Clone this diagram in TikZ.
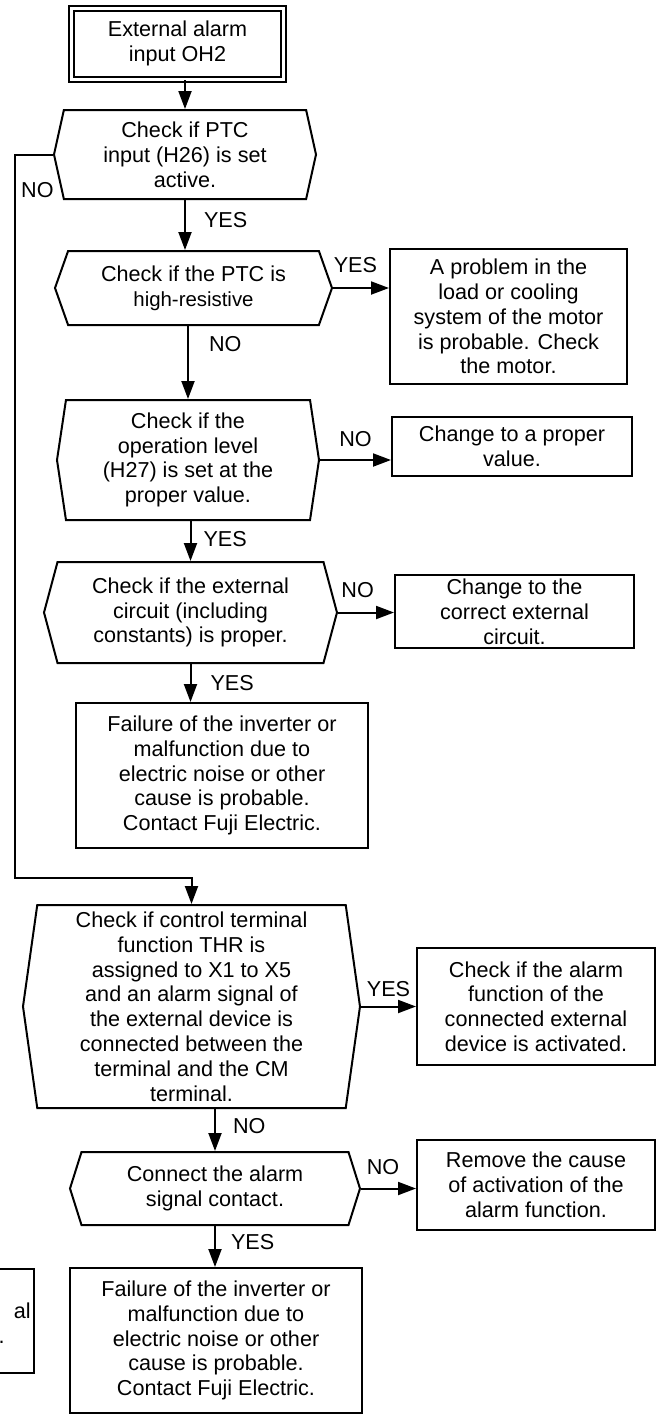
\documentclass[tikz,border=0pt]{standalone}
\usepackage{fontspec}
\setmainfont{Liberation Sans}
\usetikzlibrary{shapes.symbols, arrows.meta, positioning, calc}

\begin{document}
\begin{tikzpicture}[x=0.5pt, y=-0.5pt, >={Triangle[length=9pt, width=6.5pt]},
		base/.style={font=\fontsize{10.8}{12.4}\selectfont, line width=1pt},
		block/.style={base, rectangle, draw, align=center, inner sep=2pt},
		check/.style={base, signal, signal to=east and west, draw, align=center, inner sep=2pt},
		tag/.style={font=\fontsize{10.8}{12.4}\selectfont, inner sep=0pt},
		line/.style={draw, ->, line width=1pt}]
		
		\useasboundingbox (0,0) rectangle (657,1415);
		
		\node [block, double, double distance=1.5pt, minimum width=106pt, minimum height=35.5pt] (start) at (177.5,43.5) {External alarm\\input OH2};
		\node [check, signal pointer angle=155, minimum width=131pt, minimum height=44.5pt] (ptc) at (185,154.5) {Check if PTC\\input (H26) is set\\active.};
		\node [check, signal pointer angle=141, minimum width=138.5pt, minimum height=37pt] (resist) at (193.5,288) {Check if the PTC is\\{\fontsize{10.2}{12}\selectfont high-resistive}};
		\node [block, minimum width=118.5pt, minimum height=67.5pt] (motor) at (508.5,316.5) {A problem in the\\load or cooling\\system of the motor\\is probable. Check\\the motor.};
		\node [check, signal pointer angle=163, minimum width=131pt, minimum height=60pt] (level) at (188,460) {Check if the\\operation level\\(H27) is set at the\\proper value.};
		\node [block, minimum width=120pt, minimum height=29.5pt] (value) at (512,446.5) {Change to a proper\\value.};
		\node [check, signal pointer angle=150, minimum width=146.5pt, minimum height=50.5pt] (circuit) at (190.5,612.5) {Check if the external\\circuit (including\\constants) is proper.};
		\node [block, minimum width=119.5pt, minimum height=36.5pt] (extcirc) at (514.5,611.5) {Change to the\\correct external\\circuit.};
		\node [block, minimum width=146pt, minimum height=72.5pt] (fail) at (222,775.5) {Failure of the inverter or\\malfunction due to\\electric noise or other\\cause is probable.\\Contact Fuji Electric.};
		\node [check, signal pointer angle=164, minimum width=168.5pt, minimum height=101.5pt] (thr) at (191.5,1006.5) {Check if control terminal\\function THR is\\assigned to X1 to X5\\and an alarm signal of\\the external device is\\connected between the\\terminal and the CM\\terminal.};
		\node [block, minimum width=119pt, minimum height=58.5pt] (device) at (536,1006.5) {Check if the alarm\\function of the\\connected external\\device is activated.};
		\node [check, signal pointer angle=145, minimum width=145pt, minimum height=36.5pt] (contact) at (215,1188.5) {Connect the alarm\\signal contact.};
		\node [block, minimum width=119pt, minimum height=45pt] (cause) at (536,1185) {Remove the cause\\of activation of the\\alarm function.};
		\node [block, minimum width=146pt, minimum height=72.5pt] (fail2) at (216,1340.5) {Failure of the inverter or\\malfunction due to\\electric noise or other\\cause is probable.\\Contact Fuji Electric.};
		
		% cut-off box on the left
		\node [block, minimum width=40pt, minimum height=52pt, anchor=north east] (prev) at (35,1268) {};
		\node [tag, anchor=base east] (prevA) at (31,1318) {al};
		\node [tag, anchor=base east] (prevB) at (5,1343) {.};
		
		% Liens
		\coordinate (noturn) at (15,878);
		\path [line] (start.south -| ptc.north) -- (ptc.north);
		\path [line] (ptc.south) -- (ptc.south |- resist.north) node [tag, pos=0.4, right=9pt] {YES};
		\path [line] (ptc.west) -| (noturn) -| (thr.north);
		\node [tag, anchor=north east] (ptcno) at ([shift={(1,27.5)}]ptc.west) {NO};
		\path [line] (resist.east) -- (resist.east -| motor.west) node [tag, pos=0.4, above=7pt] {YES};
		\path [line] (resist.south -| level.north) -- (level.north) node [tag, pos=0.25, right=10pt] {NO};
		\path [line] (level.east) -- (level.east -| value.west) node [tag, midway, above=6pt] {NO};
		\path [line] (level.south -| circuit.north) -- (circuit.north) node [tag, pos=0.45, right=6pt] {YES};
		\path [line] (circuit.east) -- (circuit.east -| extcirc.west) node [tag, pos=0.35, above=7pt] {NO};
		\path [line] (circuit.south) -- (circuit.south |- fail.north) node [tag, midway, right=9.5pt] {YES};
		\path [line] (thr.east) -- (thr.east -| device.west) node [tag, midway, above=4.5pt] {YES};
		\path [line] (thr.south -| contact.north) -- (contact.north) node [tag, pos=0.4, right=8.5pt] {NO};
		\path [line] (contact.east) -- (contact.east -| cause.west) node [tag, pos=0.4, above=6.5pt] {NO};
		\path [line] (contact.south) -- (contact.south |- fail2.north) node [tag, pos=0.4, right=7.5pt] {YES};
		
	\end{tikzpicture}
\end{document}
